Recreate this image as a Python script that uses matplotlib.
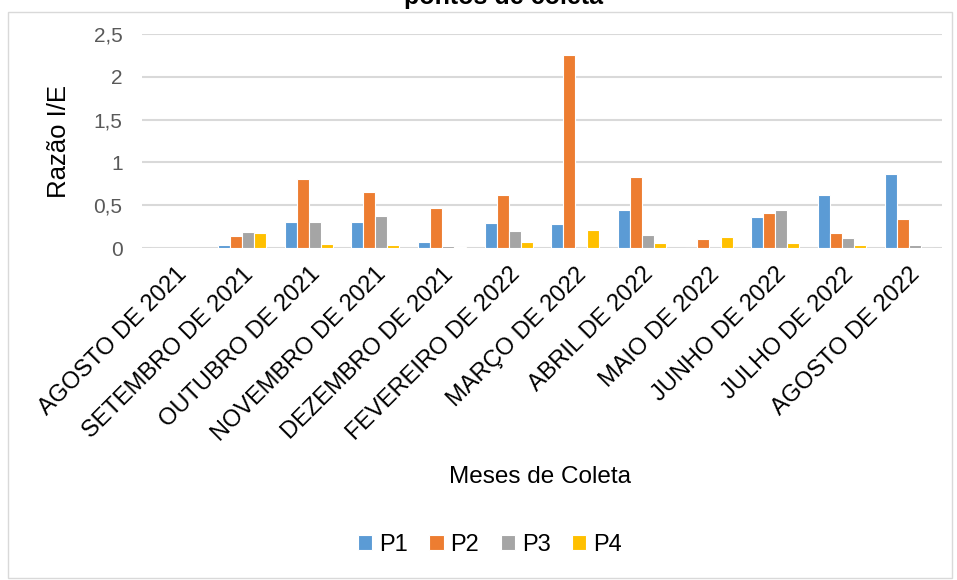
import numpy as np
import matplotlib
matplotlib.use("Agg")
import matplotlib.pyplot as plt
from matplotlib.patches import Rectangle
from matplotlib.ticker import FuncFormatter

plt.rcParams['font.family'] = ['Liberation Sans', 'DejaVu Sans']

meses = ["AGOSTO DE 2021", "SETEMBRO DE 2021", "OUTUBRO DE 2021", "NOVEMBRO DE 2021",
         "DEZEMBRO DE 2021", "FEVEREIRO DE 2022", "MARÇO DE 2022", "ABRIL DE 2022",
         "MAIO DE 2022", "JUNHO DE 2022", "JULHO DE 2022", "AGOSTO DE 2022"]
p1 = [0, 0.04, 0.30, 0.30, 0.075, 0.29, 0.275, 0.445, 0, 0.36, 0.62, 0.86]
p2 = [0, 0.135, 0.81, 0.65, 0.47, 0.62, 2.26, 0.83, 0.10, 0.41, 0.18, 0.34]
p3 = [0, 0.19, 0.30, 0.37, 0.02, 0.195, 0, 0.15, 0, 0.44, 0.12, 0.03]
p4 = [0, 0.17, 0.043, 0.04, 0.008, 0.067, 0.215, 0.055, 0.125, 0.055, 0.04, 0]
series = ["P1", "P2", "P3", "P4"]
cores = ["#5B9BD5", "#ED7D31", "#A5A5A5", "#FFC000"]

W, H = 957, 580
fig = plt.figure(figsize=(W / 100, H / 100), dpi=100)
ax = fig.add_axes([142 / W, 1 - 248 / H, 800 / W, 214 / H])

x = np.arange(len(meses))
w = 0.18
for j, (vals, nome, cor) in enumerate(zip([p1, p2, p3, p4], series, cores)):
    ax.bar(x + (j - 1.5) * w, vals, width=w, color=cor, edgecolor="white",
           linewidth=0.8, label=nome, zorder=3)

ax.set_xlim(-0.5, len(meses) - 0.5)
ax.set_ylim(0, 2.5)
ax.set_yticks(np.arange(0, 2.51, 0.5))
ax.yaxis.set_major_formatter(FuncFormatter(lambda v, p: f"{v:g}".replace(".", ",")))
ax.grid(axis="y", color="#d9d9d9", linewidth=1.5, zorder=0)
for s in ax.spines.values():
    s.set_visible(False)
ax.tick_params(axis="both", length=0)
ax.tick_params(axis="y", labelsize=15, labelcolor="#595959", pad=14)
ax.set_xticks(x)
ax.set_xticklabels(meses, rotation=45, ha="right", rotation_mode="anchor",
                   fontsize=17, color="black")
ax.tick_params(axis="x", pad=11)

fig.text(59 / W, 1 - 142 / H, "Razão I/E", rotation=90, fontsize=18.5,
         ha="center", va="center")
fig.text(540 / W, 1 - 477 / H, "Meses de Coleta", fontsize=17.5,
         ha="center", va="center")
fig.text(503 / W, 1 - 4 / H, "pontos de coleta", fontsize=18, fontweight="bold",
         ha="center", va="baseline")

fig.legend(loc="center", bbox_to_anchor=(490 / W, 1 - 545 / H), ncol=4,
           frameon=False, fontsize=17, handlelength=0.6, handleheight=0.6,
           handletextpad=0.3, columnspacing=0.9)

fig.patches.append(Rectangle((8 / W, 2 / H), 944 / W, 1 - 14 / H,
                             transform=fig.transFigure, fill=False,
                             edgecolor="#d9d9d9", linewidth=1))

fig.savefig("out.png", dpi=100)
